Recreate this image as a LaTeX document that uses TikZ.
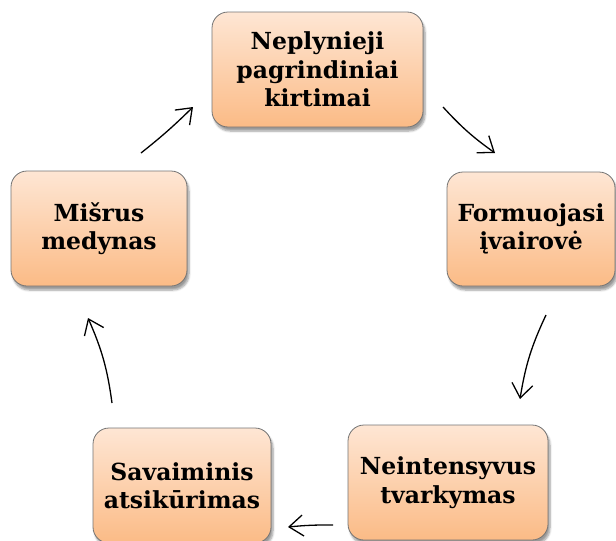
\documentclass[tikz,border=0pt]{standalone}
\usepackage{fontspec}
\setmainfont{DejaVu Serif}
\usepackage{tikz}
\usetikzlibrary{arrows.meta}
\usetikzlibrary{shadows.blur}
\definecolor{boxtop}{HTML}{FEE6D4}
\definecolor{boxbot}{HTML}{FBBB86}
\definecolor{boxedge}{HTML}{747474}
\tikzset{cyclebox/.style={draw=boxedge, line width=0.8pt, rounded corners=16pt,
         top color=boxtop, bottom color=boxbot,
         blur shadow={shadow xshift=2pt, shadow yshift=-4pt, shadow blur steps=6, shadow opacity=40},
         align=center, inner sep=2pt,
         font=\bfseries\fontsize{23.5}{28.5}\selectfont},
         cyclearrow/.style={line width=1.3pt,
         -{Straight Barb[length=14pt,width=21pt]}}}

\begin{document}
\begin{tikzpicture}[x=1pt,y=-1pt]
\useasboundingbox (0,0) rectangle (616,541);

\node[cyclebox, minimum width=211pt, minimum height=115pt] (kirt) at (317.5,69.5) {Neplynieji\\pagrindiniai\\kirtimai};
\node[cyclebox, minimum width=168pt, minimum height=114pt] (ivair) at (531,229) {Formuojasi\\įvairovė};
\node[cyclebox, minimum width=200pt, minimum height=115pt] (tvark) at (448,482.5) {Neintensyvus\\tvarkymas};
\node[cyclebox, minimum width=178pt, minimum height=115pt] (atsik) at (182,485.5) {Savaiminis\\atsikūrimas};
\node[cyclebox, minimum width=176pt, minimum height=115pt] (misr) at (99,228.5) {Mišrus\\medynas};

\coordinate (a1s) at (443,107);  \coordinate (a1e) at (495,153);
\coordinate (a2s) at (546,315);  \coordinate (a2e) at (520,399);
\coordinate (a3s) at (333,525);  \coordinate (a3e) at (288,527);
\coordinate (a4s) at (112,403);  \coordinate (a4e) at (88,318);
\coordinate (a5s) at (141,153);  \coordinate (a5e) at (193,107);

\draw[cyclearrow] (a1s) to[bend right=6] (a1e);
\draw[cyclearrow] (a2s) to[bend right=8] (a2e);
\draw[cyclearrow] (a3s) to[bend right=3] (a3e);
\draw[cyclearrow] (a4s) to[bend right=8] (a4e);
\draw[cyclearrow] (a5s) to[bend right=3] (a5e);

\end{tikzpicture}
\end{document}
